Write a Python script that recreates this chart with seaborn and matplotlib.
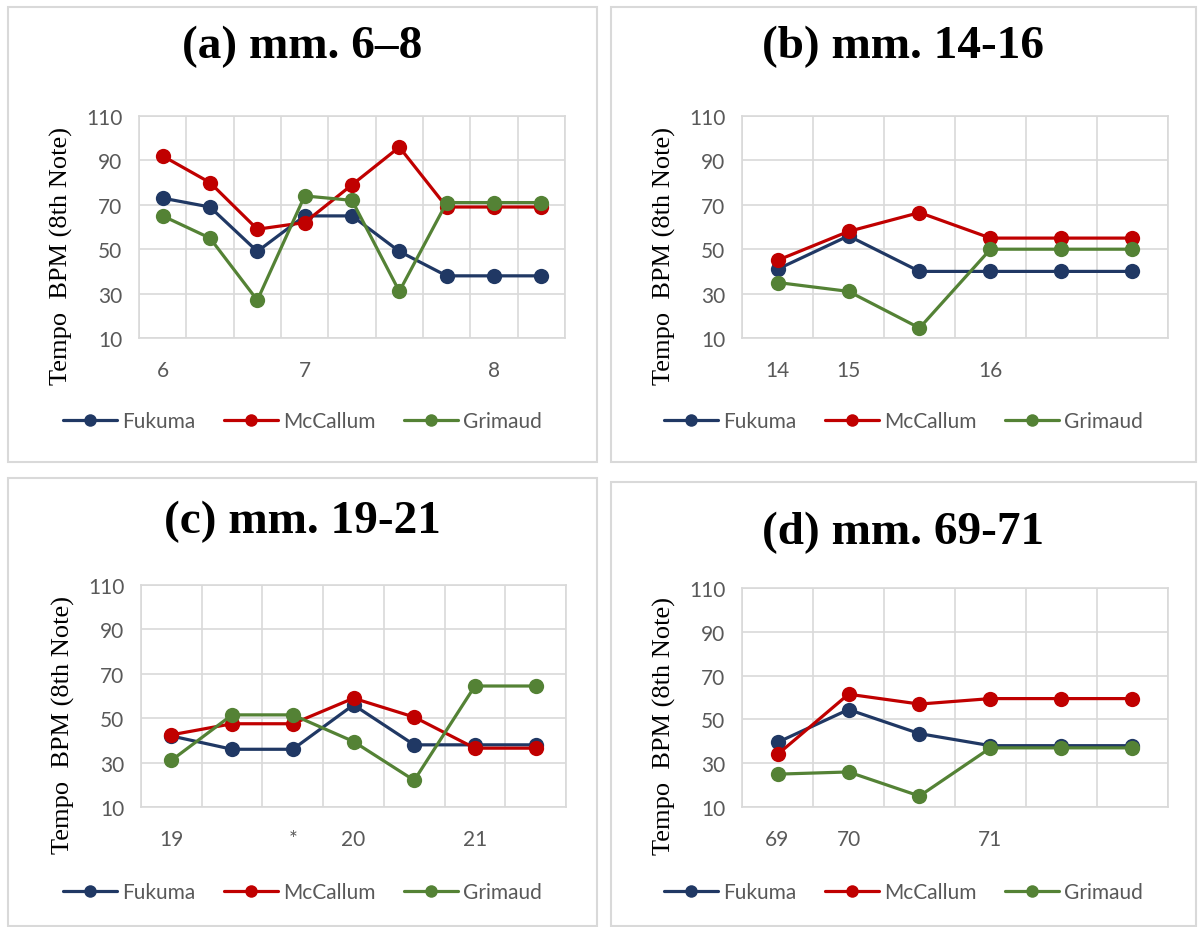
import numpy as np
import pandas as pd
import seaborn as sns
import matplotlib.pyplot as plt
from matplotlib.patches import Rectangle
from matplotlib.lines import Line2D

sns.set_theme(style='white')

performers = ['Fukuma', 'McCallum', 'Grimaud']
colors = ['#203864', '#C00000', '#548235']

# (a) mm. 6-8
a_labels = ['6', '', '', '7', '', '', '', '8', '']
a_fukuma = [73, 69, 49, 65, 65, 49, 38, 38, 38]
a_mccallum = [92, 80, 59, 62, 79, 96, 69, 69, 69]
a_grimaud = [65, 55, 27, 74, 72, 31, 71, 71, 71]

# (b) mm. 14-16
b_labels = ['14', '15', '', '16', '', '']
b_fukuma = [41, 56, 40, 40, 40, 40]
b_mccallum = [45, 58, 66.5, 55, 55, 55]
b_grimaud = [35, 31, 14.5, 50, 50, 50]

# (c) mm. 19-21
c_labels = ['19', '', '*', '20', '', '21', '']
c_fukuma = [42, 36, 36, 56, 38, 38, 38]
c_mccallum = [42.5, 47.5, 47.5, 59, 50.5, 36.5, 36.5]
c_grimaud = [31, 51.5, 51.5, 39.5, 22, 64.5, 64.5]

# (d) mm. 69-71
d_labels = ['69', '70', '', '71', '', '']
d_fukuma = [39.5, 54.5, 43.5, 38, 38, 38]
d_mccallum = [34, 61.5, 57, 59.5, 59.5, 59.5]
d_grimaud = [25, 26, 15, 37, 37, 37]

W, H = 1199, 928
grid_col = '#d9d9d9'
text_col = '#595959'
tick_font = 'Lato'
tick_size = 15

fig = plt.figure(figsize=(W / 100, H / 100), dpi=100)


def px_box(x0, y0, x1, y1):
    # pixel box (top-left origin) -> figure fraction [l, b, w, h]
    return [x0 / W, 1 - y1 / H, (x1 - x0) / W, (y1 - y0) / H]


def draw_panel(frame, plot, title, title_y, legend_y, labels, fuk, mcc, gri):
    fx0, fy0, fx1, fy1 = frame
    fig.add_artist(Rectangle((fx0 / W, 1 - fy1 / H), (fx1 - fx0) / W, (fy1 - fy0) / H,
                             transform=fig.transFigure, fill=False,
                             edgecolor=grid_col, linewidth=1.5))
    cx = (fx0 + fx1) / 2 / W
    fig.text(cx, 1 - title_y / H, title, ha='center', va='center',
             fontsize=34, fontweight='bold', family='Liberation Serif', color='black')

    ax = fig.add_axes(px_box(*plot))
    n = len(labels)
    df = pd.DataFrame({
        'pos': list(range(n)) * 3,
        'tempo': fuk + mcc + gri,
        'who': np.repeat(performers, n),
    })
    sns.lineplot(data=df, x='pos', y='tempo', hue='who', hue_order=performers,
                 palette=colors, marker='o', markersize=11, markeredgewidth=0,
                 linewidth=2.3, ax=ax, legend=False)

    ax.set_xlim(-0.5, n - 0.5)
    ax.set_ylim(10, 110)
    ax.set_yticks(np.arange(10, 111, 20))
    ax.set_xticks(range(n))
    ax.set_xticklabels(labels)
    ax.set_xticks(np.arange(-0.5, n, 1), minor=True)
    ax.grid(False)
    ax.grid(True, axis='y', which='major', color=grid_col, linewidth=1.2)
    ax.grid(True, axis='x', which='minor', color=grid_col, linewidth=1.2)
    for s in ax.spines.values():
        s.set_color(grid_col)
        s.set_linewidth(1.2)
    ax.tick_params(axis='both', which='both', length=0)
    ax.tick_params(axis='y', pad=12)
    ax.tick_params(axis='x', pad=16)
    for lab in ax.get_xticklabels() + ax.get_yticklabels():
        lab.set_fontfamily(tick_font)
        lab.set_fontsize(tick_size)
        lab.set_color(text_col)
    ax.set_xlabel('')
    ax.set_ylabel('Tempo  BPM (8th Note)', family='Liberation Serif',
                  fontsize=19, color='black')
    ax.yaxis.set_label_coords(-0.155, 0.374)

    handles = [Line2D([0], [0], color=c, marker='o', markersize=9, linewidth=2.3,
                      markeredgewidth=0) for c in colors]
    fig.legend(handles, performers, loc='center', bbox_to_anchor=(cx, 1 - legend_y / H),
               ncol=3, frameon=False, handlelength=2.6, handletextpad=0.25,
               columnspacing=1.35, prop={'family': tick_font, 'size': tick_size},
               labelcolor=text_col)
    return ax


draw_panel((8, 8, 597, 463), (139, 117, 565, 339), '(a) mm. 6\u20138', 47, 422,
           a_labels, a_fukuma, a_mccallum, a_grimaud)
draw_panel((611, 8, 1196, 463), (742, 117, 1168, 339), '(b) mm. 14-16', 47, 422,
           b_labels, b_fukuma, b_mccallum, b_grimaud)
draw_panel((8, 479, 597, 927), (141, 586, 566, 808), '(c) mm. 19-21', 522, 893,
           c_labels, c_fukuma, c_mccallum, c_grimaud)
draw_panel((611, 483, 1196, 927), (742, 589, 1168, 808), '(d) mm. 69-71', 533, 893,
           d_labels, d_fukuma, d_mccallum, d_grimaud)

fig.savefig('out.png', dpi=100)
